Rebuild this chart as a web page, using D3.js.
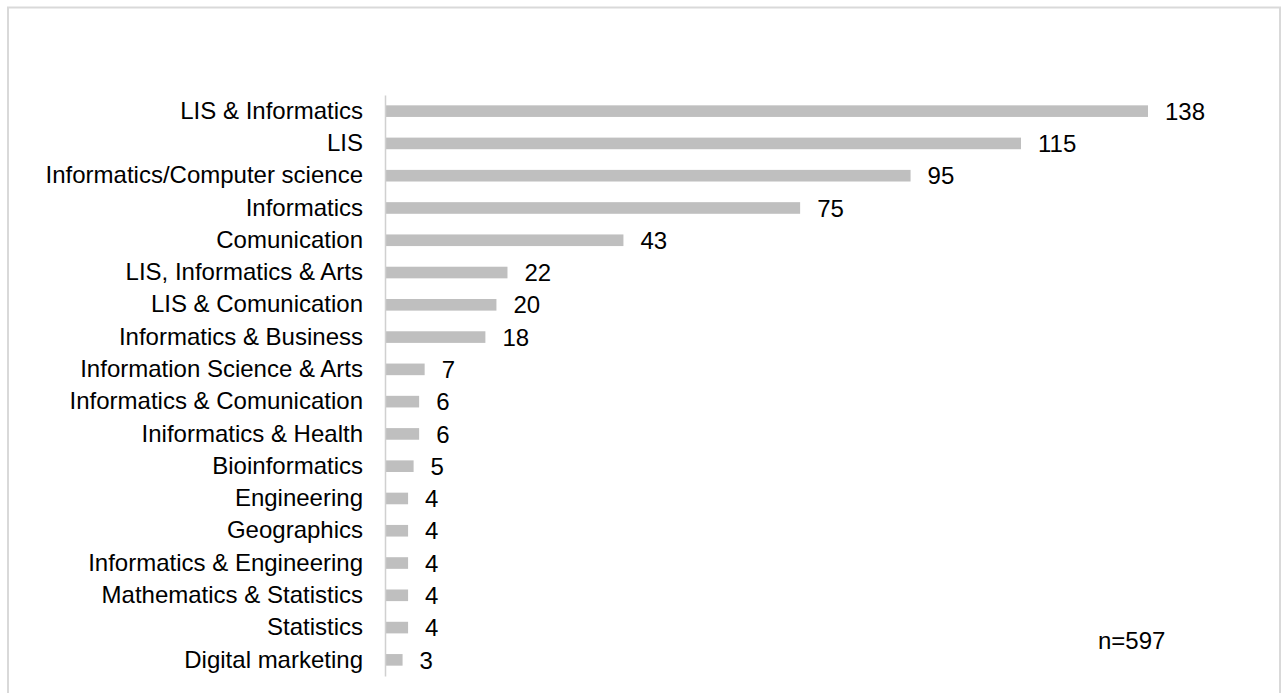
<!DOCTYPE html>
<html>
<head>
<meta charset="utf-8">
<script src="https://cdnjs.cloudflare.com/ajax/libs/d3/7.8.5/d3.min.js"></script>
<style>
  body { margin: 0; background: #fff; }
  text { font-family: Arial, "Liberation Sans", sans-serif; fill: #000; }
</style>
</head>
<body>
<svg id="chart" width="1282" height="693"></svg>
<script>
// categories and counts, top to bottom
var categories = [
  "LIS & Informatics", "LIS", "Informatics/Computer science", "Informatics",
  "Comunication", "LIS, Informatics & Arts", "LIS & Comunication",
  "Informatics & Business", "Information Science & Arts",
  "Informatics & Comunication", "Iniformatics & Health", "Bioinformatics",
  "Engineering", "Geographics", "Informatics & Engineering",
  "Mathematics & Statistics", "Statistics", "Digital marketing"
];
var counts = [138, 115, 95, 75, 43, 22, 20, 18, 7, 6, 6, 5, 4, 4, 4, 4, 4, 3];
var note = "n=597";

var svg = d3.select("#chart");

// outer frame
svg.append("rect")
  .attr("x", 8).attr("y", 7.5)
  .attr("width", 1272).attr("height", 700)
  .attr("fill", "none")
  .attr("stroke", "#d9d9d9")
  .attr("stroke-width", 2);

var x = d3.scaleLinear()
  .domain([0, 138])
  .range([386, 1148]);

var y = d3.scaleBand()
  .domain(categories)
  .range([95, 676])
  .paddingInner(0.64)
  .paddingOuter(0.32);

var rows = categories.map(function (c, i) { return { name: c, value: counts[i] }; });

// bars
svg.append("g")
  .selectAll("rect")
  .data(rows)
  .enter()
  .append("rect")
  .attr("x", x(0))
  .attr("y", function (d) { return y(d.name); })
  .attr("width", function (d) { return x(d.value) - x(0); })
  .attr("height", y.bandwidth())
  .attr("fill", "#bfbfbf");

// value labels
svg.append("g")
  .selectAll("text")
  .data(rows)
  .enter()
  .append("text")
  .attr("x", function (d) { return x(d.value) + 17; })
  .attr("y", function (d) { return y(d.name) + y.bandwidth() / 2; })
  .attr("dy", "0.36em")
  .style("font-size", "24px")
  .text(function (d) { return d.value; });

// category axis
var axis = svg.append("g")
  .attr("transform", "translate(385,0)")
  .call(d3.axisLeft(y).tickSize(0).tickPadding(22));
axis.select(".domain").attr("stroke", "#d0d0d0").attr("stroke-width", 1.5);
axis.selectAll("text")
  .style("font-size", "24px")
  .style("font-family", "Arial, 'Liberation Sans', sans-serif")
  .attr("fill", "#000");

svg.append("text")
  .attr("x", 1098)
  .attr("y", 649)
  .style("font-size", "24px")
  .text(note);
</script>
</body>
</html>
